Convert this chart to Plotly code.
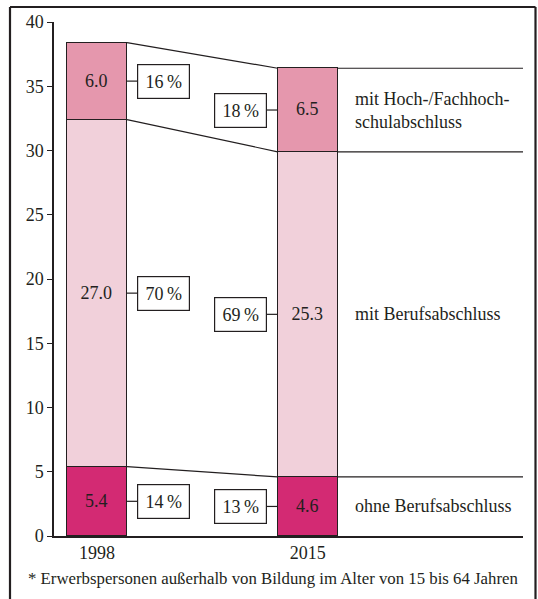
import plotly.graph_objects as go

# ---- data ----
years = ["1998", "2015"]
categories = ["ohne Berufsabschluss", "mit Berufsabschluss", "mit Hoch-/Fachhoch-<br>schulabschluss"]
ohne = [5.4, 4.6]
beruf = [27.0, 25.3]
hoch = [6.0, 6.5]
pct_ohne = [14, 13]
pct_beruf = [70, 69]
pct_hoch = [16, 18]
y_ticks = [0, 5, 10, 15, 20, 25, 30, 35, 40]
footnote = "* Erwerbspersonen außerhalb von Bildung im Alter von 15 bis 64 Jahren"

series = [ohne, beruf, hoch]
pcts = [pct_ohne, pct_beruf, pct_hoch]
colors = ["#D32A73", "#F1D0DA", "#E597AD"]

FONT = "Times New Roman, Liberation Serif, DejaVu Serif, Noto Serif, serif"
INK = "#231F20"
xpos = [0, 1]
bw = 0.285
half = bw / 2
XMIN, XMAX = -0.204, 2.022

fig = go.Figure()
for vals, col in zip(series, colors):
    fig.add_trace(go.Bar(
        x=xpos, y=vals, width=bw,
        marker=dict(color=col, line=dict(color=INK, width=1.5)),
        text=[f"{v:.1f}" for v in vals], textposition="inside",
        insidetextanchor="middle", textangle=0,
        textfont=dict(family=FONT, size=18, color=INK),
        showlegend=False, hoverinfo="skip"))

# cumulative boundaries
cum = []
for i in range(2):
    c, acc = [], 0.0
    for s in series:
        acc += s[i]
        c.append(acc)
    cum.append(c)

# connecting lines between bars
for k in range(3):
    fig.add_trace(go.Scatter(x=[half, 1 - half], y=[cum[0][k], cum[1][k]], mode="lines",
                             line=dict(color=INK, width=1.2), showlegend=False, hoverinfo="skip"))
    fig.add_trace(go.Scatter(x=[1 + half, XMAX], y=[cum[1][k], cum[1][k]], mode="lines",
                             line=dict(color=INK, width=1.2), showlegend=False, hoverinfo="skip"))

# percent boxes
box_x = [0.318, 0.6826]
conn = [(half, 0.1946), (0.805, 1 - half)]
for i in range(2):
    base = 0.0
    for k, s in enumerate(series):
        mid = base + s[i] / 2
        base += s[i]
        fig.add_trace(go.Scatter(x=list(conn[i]), y=[mid, mid], mode="lines",
                                 line=dict(color=INK, width=1.2), showlegend=False, hoverinfo="skip"))
        fig.add_annotation(x=box_x[i], y=mid, xref="x", yref="y", showarrow=False,
                           text=f"{pcts[k][i]}\u2009%", font=dict(family=FONT, size=18, color=INK),
                           bgcolor="white", bordercolor=INK, borderwidth=1.2,
                           width=49, height=31, borderpad=1)

# category labels at right
base = 0.0
for k, s in enumerate(series):
    mid = base + s[1] / 2
    base += s[1]
    fig.add_annotation(x=1.2136, y=mid, xref="x", yref="y", showarrow=False, xanchor="left",
                       align="left", text=categories[k], font=dict(family=FONT, size=18, color=INK))

# footnote
fig.add_annotation(x=(26 - 54) / 469, y=(536 - 578) / 514, xref="paper", yref="paper",
                   showarrow=False, xanchor="left", yanchor="middle", text=footnote,
                   font=dict(family=FONT, size=16.8, color=INK))

# frame
L, R, T, B = (10 - 54) / 469, (535.5 - 54) / 469, (536 - 7) / 514, (536 - 605) / 514
for x0, y0, x1, y1 in [(L, B, L, T), (L, T, R, T), (R, T, R, B)]:
    fig.add_shape(type="line", xref="paper", yref="paper", x0=x0, y0=y0, x1=x1, y1=y1,
                  line=dict(color=INK, width=2.2))

fig.update_layout(
    width=538, height=599, barmode="stack", bargap=0,
    margin=dict(l=54, r=15, t=22, b=63),
    paper_bgcolor="white", plot_bgcolor="white",
    font=dict(family=FONT, size=18, color=INK),
    xaxis=dict(range=[XMIN, XMAX], tickvals=xpos, ticktext=years, showline=True,
               linecolor=INK, linewidth=1.5, ticks="", showgrid=False, zeroline=False,
               tickfont=dict(family=FONT, size=18, color=INK), fixedrange=True),
    yaxis=dict(range=[0, 40], tickvals=y_ticks, showline=True, linecolor=INK, linewidth=1.5,
               ticks="outside", ticklen=5, tickwidth=1.2, tickcolor=INK, showgrid=False,
               zeroline=False, tickfont=dict(family=FONT, size=18, color=INK), fixedrange=True),
)

fig.write_html("out.html", config={"displayModeBar": False},
               post_script="document.body.style.margin='0';document.body.style.overflow='hidden';")
